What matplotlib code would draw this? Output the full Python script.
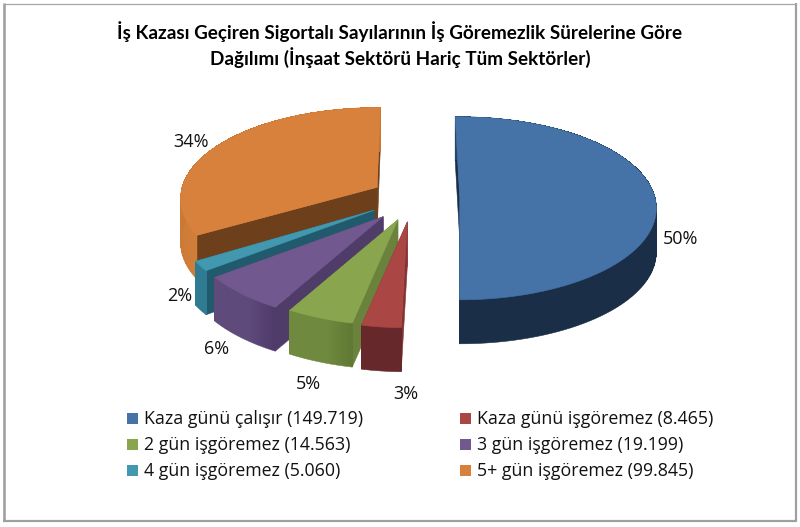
"""
Exploded 3D style pie: work accidents by days of incapacity.
"""

import numpy as np
import matplotlib
matplotlib.use('Agg')
import matplotlib.pyplot as plt
from matplotlib.colors import to_rgb
from matplotlib.patches import Rectangle

# Data
categories = ['Kaza günü çalışır', 'Kaza günü işgöremez', '2 gün işgöremez',
              '3 gün işgöremez', '4 gün işgöremez', '5+ gün işgöremez']
values = [149719, 8465, 14563, 19199, 5060, 99845]
title_lines = ['İş Kazası Geçiren Sigortalı Sayılarının İş Göremezlik Sürelerine Göre',
               'Dağılımı (İnşaat Sektörü Hariç Tüm Sektörler)']

# Styles, per slice
top_colors = ['#4572A7', '#AA4643', '#89A54E', '#71588F', '#4198AF', '#D8813C']
wall_start = ['#264463', '#66282A', '#5F7833', '#4F3A6B', '#2F7C92', '#D07E39']
wall_end = ['#1B2E47', '#66282A', '#6F8A3E', '#5E4A7B', '#2F7C92', '#C77633']
cut_colors = ['#1B2E47', '#823433', '#6A823C', '#503C69', '#215A6C', '#6D401B']
explode = [0.245, 0.2, 0.2, 0.22, 0.23, 0.21]
turn = [-1.5, 0, 0, 0, 0, 1.0]
lift = [-3, 3, 2, 1, -2, -3]
squash = [0.973, 1, 1, 1, 1, 0.97]
pct_pos = [(680, 239), (406, 394), (308, 384), (217, 349), (180, 296), (191, 142)]

# Pie geometry, in pixels
CX, CY = 412, 200
RX, RY = 195, 92.5
PERSP = 0.127
DEPTH = 44


def project(theta, r=1.0):
    """Clockwise angle from the top -> screen offset, near side drawn bigger."""
    s, t = r * np.sin(theta), -r * np.cos(theta)
    w = 1 - PERSP * t
    return RX * s / w, RY * t / w


def mix(c1, c2, f):
    return tuple((1 - f) * a + f * b for a, b in zip(to_rgb(c1), to_rgb(c2)))


fig = plt.figure(figsize=(8.0, 5.27), dpi=100)
ax = fig.add_axes([0, 0, 1, 1])
ax.set_xlim(0, 800)
ax.set_ylim(527, 0)
ax.axis('off')

# frame of the chart area
ax.plot([4.2, 4.2], [3, 521], color='#a0a0a0', lw=1.9, solid_capstyle='butt')
ax.plot([795.5, 795.5], [3, 522], color='#a0a0a0', lw=1.6, solid_capstyle='butt')
ax.plot([3, 796], [3.5, 3.5], color='#a6a6a6', lw=0.9, solid_capstyle='butt')
ax.plot([3, 796], [521, 521], color='#a0a0a0', lw=1.6, solid_capstyle='butt')

for i, line in enumerate(title_lines):
    ax.text(400, 32 + i * 26, line, ha='center', va='center', fontsize=13.6,
            fontweight='bold', family='Lato', color='black')

total = sum(values)
edges = np.cumsum([0] + values) / total * 2 * np.pi

# back slices first, the big blue one does not overlap anything
for i in [0, 5, 4, 3, 2, 1]:
    a0 = edges[i] + np.radians(turn[i])
    a1 = edges[i + 1] + np.radians(turn[i])
    mid = (a0 + a1) / 2
    ox, oy = project(mid, explode[i])
    ox, oy = CX + ox, CY + oy + lift[i]

    th = np.linspace(a0, a1, 90)
    px, py = project(th)
    px, py = ox + px, oy + py * squash[i]

    # cut faces
    for k in [0, -1]:
        ax.fill([ox, px[k], px[k], ox], [oy, py[k], py[k] + DEPTH, oy + DEPTH],
                color=cut_colors[i], lw=0.4)

    # outer wall: smooth base shape, then hard edged strips for the shading
    ax.fill(np.r_[px, px[::-1]], np.r_[py, py[::-1] + DEPTH], color=wall_end[i], lw=0.4)
    for j in range(len(th) - 1):
        col = mix(wall_start[i], wall_end[i], min(j / 35, 1))
        ax.fill([px[j], px[j + 1], px[j + 1], px[j]],
                [py[j], py[j + 1], py[j + 1] + DEPTH - 1, py[j] + DEPTH - 1],
                color=col, lw=0, antialiased=False)

    ax.fill(np.r_[ox, px], np.r_[oy, py], color=top_colors[i], lw=0.4)

    ax.text(pct_pos[i][0], pct_pos[i][1], f'{round(100 * values[i] / total)}%',
            ha='center', va='center', fontsize=13, family='Open Sans', color='#111111')

# Legend
col_x = [127, 460]
row_y = [418, 444, 470]
for i, (name, val) in enumerate(zip(categories, values)):
    x, y = col_x[i % 2], row_y[i // 2]
    ax.add_patch(Rectangle((x, y - 5.5), 11, 11, fc=top_colors[i], ec='none'))
    label = f'{name} ({val:,})'.replace(',', '.')
    ax.text(x + 17, y + 1.5, label, ha='left', va='center', fontsize=12.8,
            family='Open Sans', color='#111111')

plt.savefig('out.png', dpi=100)
